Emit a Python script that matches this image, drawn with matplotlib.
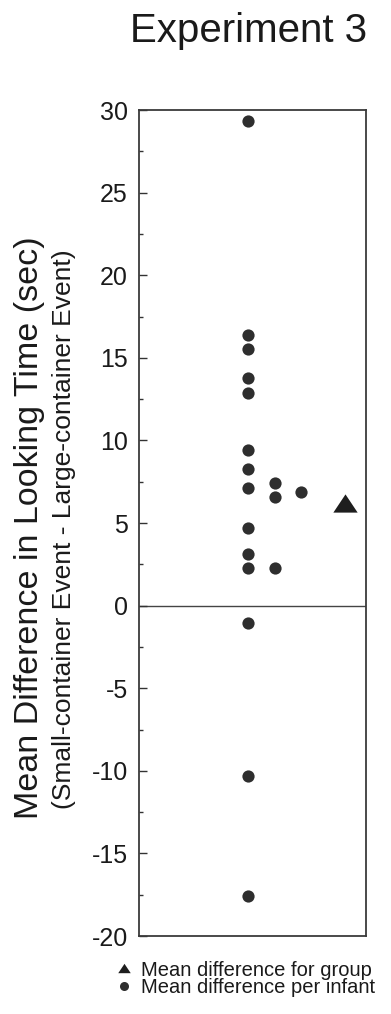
import numpy as np
import matplotlib
matplotlib.use("Agg")
import matplotlib.pyplot as plt
from matplotlib.ticker import MultipleLocator
from matplotlib.lines import Line2D

plt.rcParams['font.family'] = ['Liberation Sans', 'DejaVu Sans']
plt.rcParams['axes.unicode_minus'] = False

# per-infant differences (sec), grouped by column of the dot stack
col1_values = [29.35, 16.4, 15.55, 13.8, 12.85, 9.45, 8.3, 7.1, 4.7, 3.15, 2.3, -1.05, -10.3, -17.6]
col2_values = [7.4, 6.55, 2.3]
col3_values = [6.9]
group_mean = [6.2]

col_x = [0.48, 0.597, 0.712]
mean_x = 0.905

title = "Experiment 3"
ylabel_main = "Mean Difference in Looking Time (sec)"
ylabel_sub = "(Small-container Event - Large-container Event)"
legend_labels = ["Mean difference for group", "Mean difference per infant"]
yticks = [30, 25, 20, 15, 10, 5, 0, -5, -10, -15, -20]

dot_color = "#2e2e2e"
tri_color = "#1e1e1e"

fig = plt.figure(figsize=(3.91, 10.14), dpi=100)
ax = fig.add_axes([0.3555, 0.0769, 0.581, 0.8146])

for x, vals in zip(col_x, [col1_values, col2_values, col3_values]):
    ax.plot([x] * len(vals), vals, 'o', color=dot_color, markersize=8.8,
            markeredgewidth=0, linestyle='none')

tri_marker = [(-1, -0.75), (1, -0.75), (0, 0.75), (-1, -0.75)]
ax.plot([mean_x], group_mean, marker=tri_marker, color=tri_color,
        markersize=17.5, markeredgewidth=0, linestyle='none')

ax.axhline(0, color="#444444", linewidth=1.0, zorder=1)

ax.set_xlim(0, 1)
ax.set_ylim(-20, 30)
ax.set_yticks(yticks)
ax.yaxis.set_minor_locator(MultipleLocator(2.5))
ax.set_xticks([])
ax.tick_params(axis='y', which='major', direction='in', length=6, width=1,
               labelsize=18, pad=8, colors="#333333", labelcolor="#1a1a1a")
ax.tick_params(axis='y', which='minor', direction='in', length=3, width=1,
               colors="#333333")
for s in ax.spines.values():
    s.set_color("#3a3a3a")
    s.set_linewidth(1.3)

fig.text(248.5 / 391, 1 - 42 / 1014, title, fontsize=29, ha='center',
         va='baseline', color="#1a1a1a")
fig.text(30 / 391, 1 - 528 / 1014, ylabel_main, fontsize=24.5, rotation=90,
         ha='center', va='center', color="#1a1a1a")
fig.text(64 / 391, 1 - 529 / 1014, ylabel_sub, fontsize=19, rotation=90,
         ha='center', va='center', color="#1a1a1a")

# legend handles sized like the small printed key
tri_key = Line2D([], [], marker=tri_marker, color=tri_color, markersize=9,
                 markeredgewidth=0, linestyle='none')
dot_key = Line2D([], [], marker='o', color=dot_color, markersize=6.5,
                 markeredgewidth=0, linestyle='none')
leg = ax.legend([tri_key, dot_key], legend_labels, loc='center left',
                bbox_to_anchor=(116 / 391, 1 - 979 / 1014),
                bbox_transform=fig.transFigure, frameon=False, fontsize=14.5,
                handlelength=0.8, handletextpad=0.45, labelspacing=-0.05,
                borderpad=0, borderaxespad=0)
for t in leg.get_texts():
    t.set_color("#1a1a1a")

fig.savefig("out.png", dpi=100, facecolor="white")
